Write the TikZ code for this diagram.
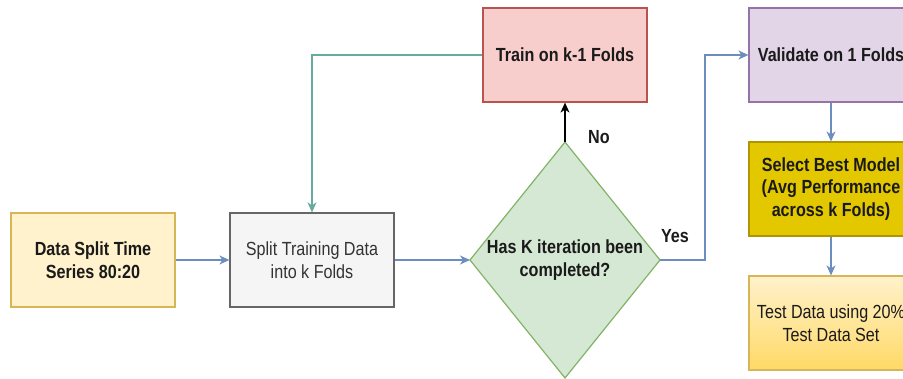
\documentclass[tikz,border=0pt]{standalone}
\usepackage{fontspec}
\setmainfont{Liberation Sans}[FakeStretch=0.85]
\usetikzlibrary{arrows.meta,positioning}
\definecolor{yfill}{HTML}{FFF2CC}
\definecolor{ydraw}{HTML}{D6B656}
\definecolor{gfill}{HTML}{F5F5F5}
\definecolor{gdraw}{HTML}{666666}
\definecolor{gtext}{HTML}{333333}
\definecolor{rfill}{HTML}{F8CECC}
\definecolor{rdraw}{HTML}{B85450}
\definecolor{dfill}{HTML}{D5E8D4}
\definecolor{ddraw}{HTML}{82B366}
\definecolor{pfill}{HTML}{E1D5E7}
\definecolor{pdraw}{HTML}{9673A6}
\definecolor{ofill}{HTML}{E3C800}
\definecolor{odraw}{HTML}{B09500}
\definecolor{tbot}{HTML}{FFD966}
\definecolor{blue}{HTML}{6C8EBF}
\definecolor{teal}{HTML}{67AB9F}
\definecolor{txt}{HTML}{1A1A1A}
\tikzset{
  box/.style={rectangle, minimum width=164pt, minimum height=94pt, inner sep=0pt, line width=1.2pt, align=center, text=txt, font=\fontsize{19}{22.5}\selectfont},
  bold/.style={font=\fontsize{19}{22.5}\selectfont\bfseries},
  conn/.style={line width=1.3pt, -{Stealth[length=10pt,width=9pt,inset=3pt]}},
  lbl/.style={font=\fontsize{19}{22}\selectfont\bfseries, text=txt, inner sep=0pt}
}
\begin{document}
\begin{tikzpicture}[x=1pt,y=-1pt]
\useasboundingbox (0,0) rectangle (903,378);
\clip (0,0) rectangle (903,378);
\node[box, bold, fill=yfill, draw=ydraw] (b1) at (93,260) {Data Split Time\\Series 80:20};
\node[box, fill=gfill, draw=gdraw, text=gtext] (b2) at (312,260) {Split Training Data\\into k Folds};
\node[box, bold, fill=rfill, draw=rdraw] (tr) at (565,55) {Train on k-1 Folds};
\coordinate (dt) at (565,142);
\coordinate (dl) at (470,260);
\coordinate (dr) at (660,260);
\coordinate (db) at (565,378);
\draw[fill=dfill, draw=ddraw, line width=1.2pt] (dt) -- (dr) -- (db) -- (dl) -- cycle;
\node[align=center, font=\fontsize{19}{22.5}\selectfont\bfseries, text=txt, inner sep=0pt] (dia) at (565,260) {Has K iteration been\\completed?};
\node[box, bold, fill=pfill, draw=pdraw] (va) at (831,55) {Validate on 1 Folds};
\node[box, bold, fill=ofill, draw=odraw] (se) at (831,189) {Select Best Model\\(Avg Performance\\across k Folds)};
\node[box, top color=yfill, bottom color=tbot, draw=ydraw] (te) at (831,323) {Test Data using 20\%\\Test Data Set};
\draw[conn, blue] (b1.east) -- (b2.west);
\draw[conn, blue] (b2.east) -- (dl);
\draw[conn, teal] (tr.west) -| (b2.north);
\draw[conn, black] (dt) -- (tr.south);
\node[lbl] (no) at (599,137) {No};
\coordinate (yb) at (705,260);
\draw[conn, blue] (dr) -- (yb) |- (va.west);
\node[lbl] (yes) at (675,236) {Yes};
\draw[conn, blue] (va.south) -- (se.north);
\draw[conn, blue] (se.south) -- (te.north);
\end{tikzpicture}
\end{document}
